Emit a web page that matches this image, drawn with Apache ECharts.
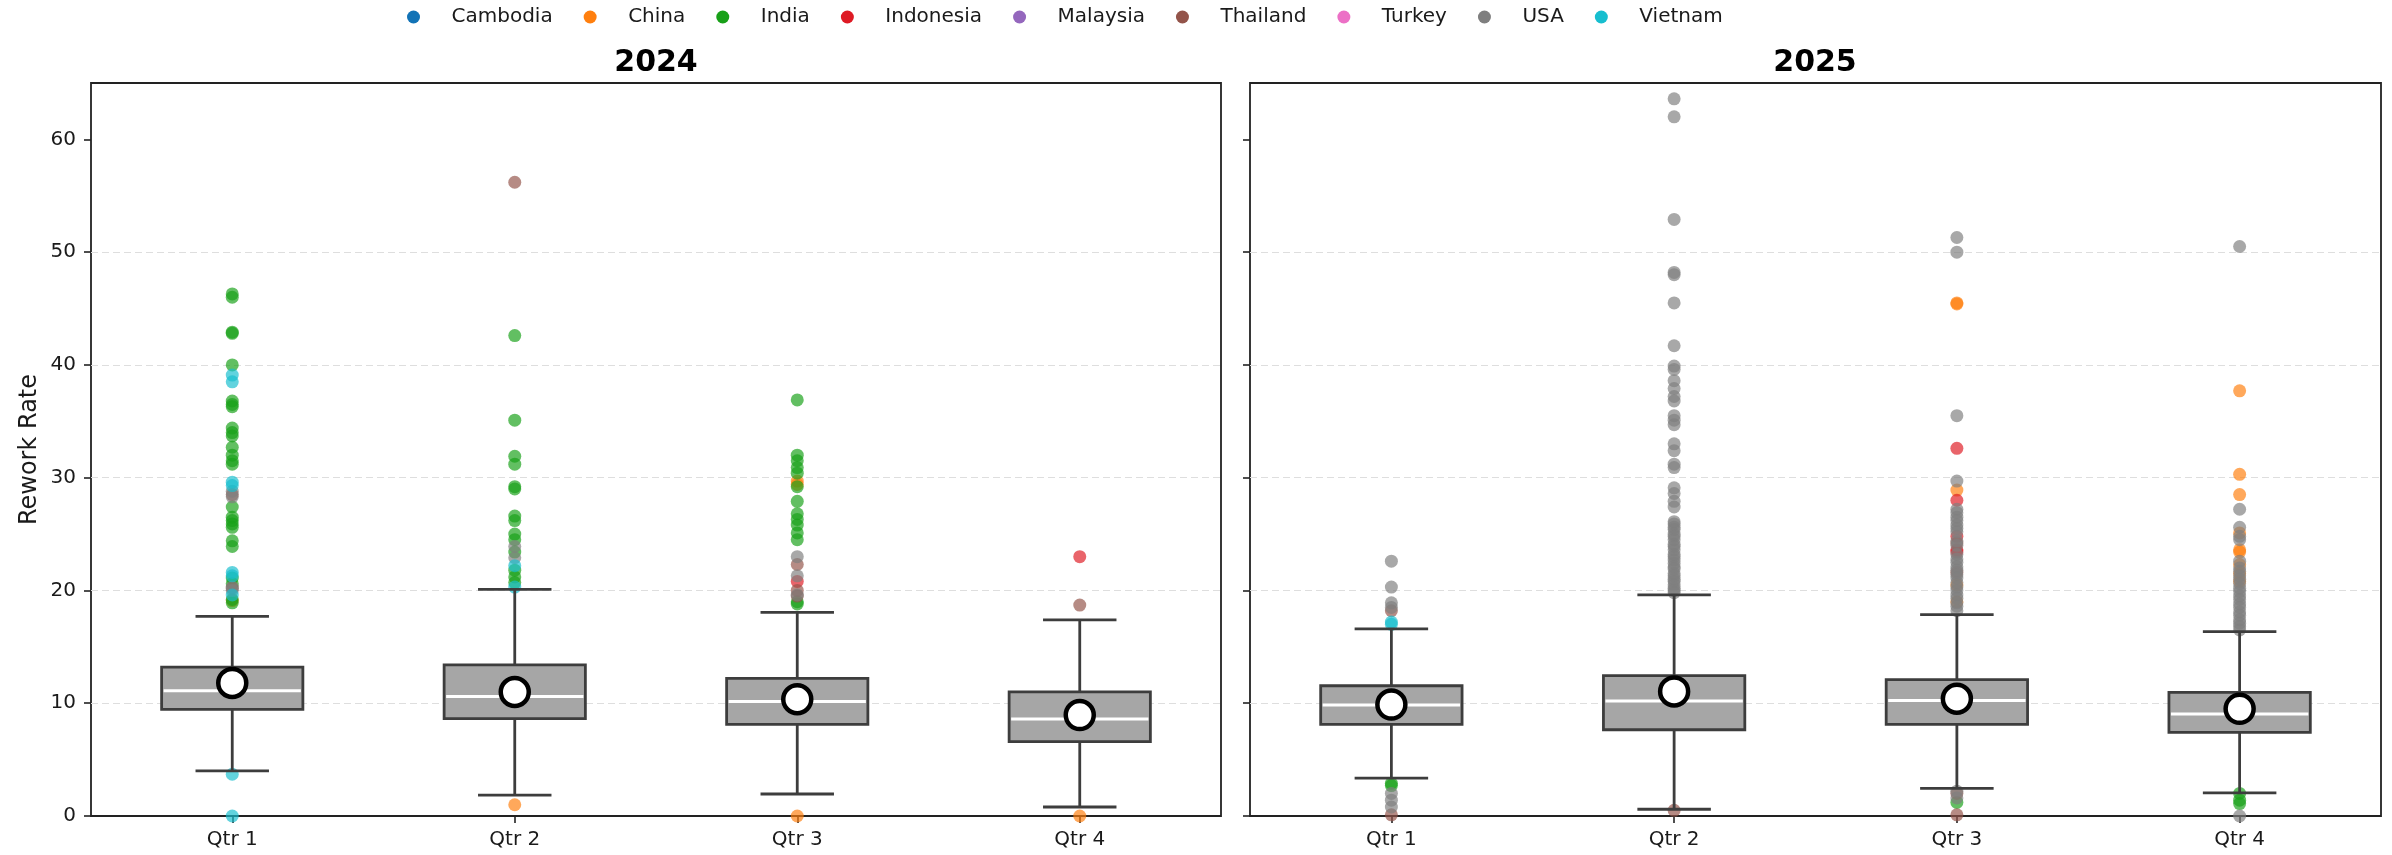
<!DOCTYPE html>
<html><head><meta charset="utf-8">
<script src="https://cdn.jsdelivr.net/npm/echarts@6/dist/echarts.min.js"></script>
<style>html,body{margin:0;padding:0;background:#fff}#c{width:2392px;height:855px}</style>
</head><body><div id="c"></div>
<script>
const years = ['2024', '2025'];
const quarters = ['Qtr 1', 'Qtr 2', 'Qtr 3', 'Qtr 4'];
const countries = ['Cambodia', 'China', 'India', 'Indonesia', 'Malaysia', 'Thailand', 'Turkey', 'USA', 'Vietnam'];
const countryColors = ['#1273b6', '#ff7f0e', '#18a018', '#de1a24', '#9467bd', '#93544a', '#ec70c6', '#7f7f7f', '#17becf'];
const yTicks = [0, 10, 20, 30, 40, 50, 60];

// box stats per quarter: [lower whisker, Q1, median, Q3, upper whisker]
const box2024 = [[4.0, 9.45, 11.1, 13.2, 17.7], [1.85, 8.63, 10.6, 13.4, 20.1], [1.95, 8.13, 10.15, 12.2, 18.05], [0.8, 6.6, 8.6, 11.0, 17.4]];
const box2025 = [[3.35, 8.13, 9.85, 11.55, 16.6], [0.6, 7.65, 10.2, 12.45, 19.6], [2.45, 8.13, 10.25, 12.1, 17.85], [2.05, 7.42, 9.05, 10.97, 16.35]];
const mean2024 = [11.8, 11.0, 10.35, 8.95];
const mean2025 = [9.88, 11.05, 10.4, 9.5];

// outliers: [quarter index, rework rate]
const out2024Cambodia = [];
const out2024China = [[0, 19.1], [1, 1.0], [2, 29.7], [2, 29.4], [2, 0.0], [3, 0.0]];
const out2024India = [[0, 46.3], [0, 46.0], [0, 42.9], [0, 42.8], [0, 40.0], [0, 36.8], [0, 36.5], [0, 36.3], [0, 34.4], [0, 34.0], [0, 33.7], [0, 32.7], [0, 32.0], [0, 31.5], [0, 31.2], [0, 27.4], [0, 26.5], [0, 26.2], [0, 25.9], [0, 25.6], [0, 24.4], [0, 23.9], [0, 21.1], [0, 20.6], [0, 19.2], [0, 18.9],
  [1, 42.6], [1, 35.1], [1, 31.9], [1, 31.2], [1, 29.2], [1, 29.0], [1, 26.6], [1, 26.2], [1, 25.0], [1, 24.5], [1, 23.4], [1, 21.8], [1, 21.2], [1, 20.7],
  [2, 36.9], [2, 32.0], [2, 31.5], [2, 30.9], [2, 30.4], [2, 29.2], [2, 27.9], [2, 26.8], [2, 26.3], [2, 25.8], [2, 25.1], [2, 24.5], [2, 19.0], [2, 18.8]];
const out2024Indonesia = [[2, 20.8], [3, 23.0]];
const out2024Malaysia = [];
const out2024Thailand = [[0, 28.5], [0, 20.2], [1, 56.2], [2, 22.3], [2, 20.0], [2, 19.5], [3, 18.7]];
const out2024Turkey = [];
const out2024USA = [[0, 28.8], [0, 28.3], [0, 20.3], [0, 20.0], [1, 23.9], [1, 22.9], [2, 23.0], [2, 21.3], [2, 19.6]];
const out2024Vietnam = [[0, 39.1], [0, 38.5], [0, 29.6], [0, 29.3], [0, 21.6], [0, 21.3], [0, 19.6], [0, 3.7], [0, 0.0], [1, 22.2], [1, 20.3]];

const out2025Cambodia = [];
const out2025China = [[2, 45.5], [2, 45.4], [2, 28.9], [2, 20.5], [2, 19.0], [3, 37.7], [3, 30.3], [3, 28.5], [3, 25.1], [3, 23.6], [3, 23.4], [3, 22.3], [3, 21.5], [3, 20.8]];
const out2025India = [[0, 2.9], [0, 2.7], [2, 1.2], [3, 2.0], [3, 1.4], [3, 1.1]];
const out2025Indonesia = [[2, 32.6], [2, 28.0], [2, 24.8], [2, 23.6], [2, 23.4]];
const out2025Malaysia = [];
const out2025Thailand = [[0, 18.2], [0, 0.1], [1, 0.5], [2, 24.2], [2, 21.6], [2, 2.0], [2, 0.1]];
const out2025Turkey = [];
const out2025USA = [[0, 22.6], [0, 20.3], [0, 18.9], [0, 18.5], [0, 2.0], [0, 1.4], [0, 0.8],
  [1, 63.6], [1, 62.0], [1, 52.9], [1, 48.2], [1, 48.0], [1, 45.5], [1, 41.7], [1, 39.9], [1, 39.6], [1, 38.6], [1, 37.9], [1, 37.2], [1, 36.8], [1, 35.5], [1, 35.1], [1, 34.7], [1, 33.0], [1, 32.4], [1, 31.2], [1, 30.9], [1, 29.1], [1, 28.6], [1, 27.9], [1, 27.4],
  [1, 26.1], [1, 25.9], [1, 25.6], [1, 25.4], [1, 25.0], [1, 24.8], [1, 24.5], [1, 24.1], [1, 23.9], [1, 23.6], [1, 23.2], [1, 23.0], [1, 22.7], [1, 22.4], [1, 22.1], [1, 21.9], [1, 21.5], [1, 21.3], [1, 21.0], [1, 20.8], [1, 20.5], [1, 20.2], [1, 20.0], [1, 19.8],
  [2, 51.3], [2, 50.0], [2, 35.5], [2, 29.7], [2, 27.2], [2, 26.9], [2, 26.5], [2, 26.2], [2, 25.8], [2, 25.5], [2, 25.2], [2, 24.4], [2, 24.0], [2, 23.2], [2, 22.8], [2, 22.5], [2, 22.1], [2, 21.8], [2, 21.4], [2, 21.1], [2, 20.7], [2, 20.3], [2, 20.0], [2, 19.6], [2, 19.3], [2, 18.9], [2, 18.6], [2, 18.2], [2, 2.2], [2, 1.6],
  [3, 50.5], [3, 27.2], [3, 25.6], [3, 24.8], [3, 24.5], [3, 22.6], [3, 22.0], [3, 21.7], [3, 21.3], [3, 21.0], [3, 20.6], [3, 20.2], [3, 19.9], [3, 19.5], [3, 19.2], [3, 18.8], [3, 18.5], [3, 18.1], [3, 17.8], [3, 17.4], [3, 17.1], [3, 16.8], [3, 16.5], [3, 0.0]];
const out2025Vietnam = [[0, 17.2], [0, 17.0]];

const outliers2024 = [out2024Cambodia, out2024China, out2024India, out2024Indonesia, out2024Malaysia, out2024Thailand, out2024Turkey, out2024USA, out2024Vietnam];
const outliers2025 = [out2025Cambodia, out2025China, out2025India, out2025Indonesia, out2025Malaysia, out2025Thailand, out2025Turkey, out2025USA, out2025Vietnam];

const FONT = 'DejaVu Sans';
const DARK = '#3d3d3d';

function renderBox(params, api) {
  const xi = api.value(0);
  const pLo = api.coord([xi, api.value(1)]);
  const pQ1 = api.coord([xi, api.value(2)]);
  const pMed = api.coord([xi, api.value(3)]);
  const pQ3 = api.coord([xi, api.value(4)]);
  const pHi = api.coord([xi, api.value(5)]);
  const band = api.size([1, 0])[0];
  const bw = band * 0.5, cw = band * 0.26;
  const cx = pLo[0];
  const lw = 2.8;
  return {
    type: 'group',
    children: [
      { type: 'line', shape: { x1: cx, y1: pLo[1], x2: cx, y2: pQ1[1] }, style: { stroke: DARK, lineWidth: lw } },
      { type: 'line', shape: { x1: cx, y1: pQ3[1], x2: cx, y2: pHi[1] }, style: { stroke: DARK, lineWidth: lw } },
      { type: 'line', shape: { x1: cx - cw / 2, y1: pLo[1], x2: cx + cw / 2, y2: pLo[1] }, style: { stroke: DARK, lineWidth: lw } },
      { type: 'line', shape: { x1: cx - cw / 2, y1: pHi[1], x2: cx + cw / 2, y2: pHi[1] }, style: { stroke: DARK, lineWidth: lw } },
      { type: 'rect', shape: { x: cx - bw / 2, y: pQ3[1], width: bw, height: pQ1[1] - pQ3[1] }, style: { fill: '#a6a6a6', stroke: DARK, lineWidth: lw } },
      { type: 'line', shape: { x1: cx - bw / 2 + 2, y1: pMed[1], x2: cx + bw / 2 - 2, y2: pMed[1] }, style: { stroke: '#ffffff', lineWidth: 3 } }
    ]
  };
}

const gridsPx = [
  { left: 91, right: 1171, top: 83, bottom: 39 },
  { left: 1250, right: 11, top: 83, bottom: 39 }
];

const xAxes = years.map((y, i) => ({
  type: 'category', gridIndex: i, data: quarters, boundaryGap: true,
  axisLine: { show: false },
  axisTick: { show: true, alignWithLabel: true, length: 7, lineStyle: { color: '#222', width: 1.6 } },
  axisLabel: { fontFamily: FONT, fontSize: 20, color: '#1a1a1a', margin: 14 },
  splitLine: { show: false }
}));

const yAxes = years.map((y, i) => ({
  type: 'value', gridIndex: i, min: 0, max: 65, interval: 10,
  name: i === 0 ? 'Rework Rate' : '', nameLocation: 'middle', nameGap: 49, nameRotate: 90,
  nameTextStyle: { fontFamily: FONT, fontSize: 24, color: '#1a1a1a' },
  axisLine: { show: false },
  axisTick: { show: true, length: 7, customValues: yTicks, lineStyle: { color: '#222', width: 1.6 } },
  axisLabel: { show: i === 0, customValues: yTicks, fontFamily: FONT, fontSize: 20, color: '#1a1a1a', margin: 15 },
  splitLine: { show: true, showMinLine: false, showMaxLine: false, lineStyle: { color: '#dedede', width: 1.2, type: [7, 4] } }
}));

const series = [];
[box2024, box2025].forEach((boxes, gi) => {
  series.push({
    type: 'custom', xAxisIndex: gi, yAxisIndex: gi, z: 3, silent: true,
    renderItem: renderBox,
    encode: { x: 0, y: [1, 2, 3, 4, 5] },
    data: boxes.map((b, qi) => [qi].concat(b))
  });
});
[outliers2024, outliers2025].forEach((outs, gi) => {
  countries.forEach((c, ci) => {
    series.push({
      type: 'scatter', name: c, xAxisIndex: gi, yAxisIndex: gi, z: 2,
      symbol: 'circle', symbolSize: 13,
      itemStyle: { color: countryColors[ci], opacity: 0.68 },
      data: outs[ci]
    });
  });
});
[mean2024, mean2025].forEach((means, gi) => {
  series.push({
    type: 'scatter', xAxisIndex: gi, yAxisIndex: gi, z: 5, silent: true,
    symbol: 'circle', symbolSize: 28,
    itemStyle: { color: '#ffffff', borderColor: '#000000', borderWidth: 4.5, opacity: 1 },
    data: means.map((m, qi) => [qi, m])
  });
});

const chart = echarts.init(document.getElementById('c'), null, { renderer: 'canvas' });
chart.setOption({
  animation: false,
  backgroundColor: '#ffffff',
  title: [
    { text: years[0], left: 656, top: 48, textAlign: 'center', padding: 0, textStyle: { fontFamily: FONT, fontSize: 30, fontWeight: 'bold', color: '#000' } },
    { text: years[1], left: 1815, top: 48, textAlign: 'center', padding: 0, textStyle: { fontFamily: FONT, fontSize: 30, fontWeight: 'bold', color: '#000' } }
  ],
  legend: {
    data: countries.map(c => ({ name: c, icon: 'circle' })),
    left: 407, top: 7, padding: 0,
    itemWidth: 66, itemHeight: 13, itemGap: 31,
    itemStyle: { opacity: 1 },
    textStyle: { fontFamily: FONT, fontSize: 20, color: '#1a1a1a' }
  },
  grid: gridsPx.map(g => Object.assign({ show: true, borderColor: '#222', borderWidth: 1.8, backgroundColor: 'transparent' }, g)),
  xAxis: xAxes,
  yAxis: yAxes,
  series: series
});
</script>
</body></html>
